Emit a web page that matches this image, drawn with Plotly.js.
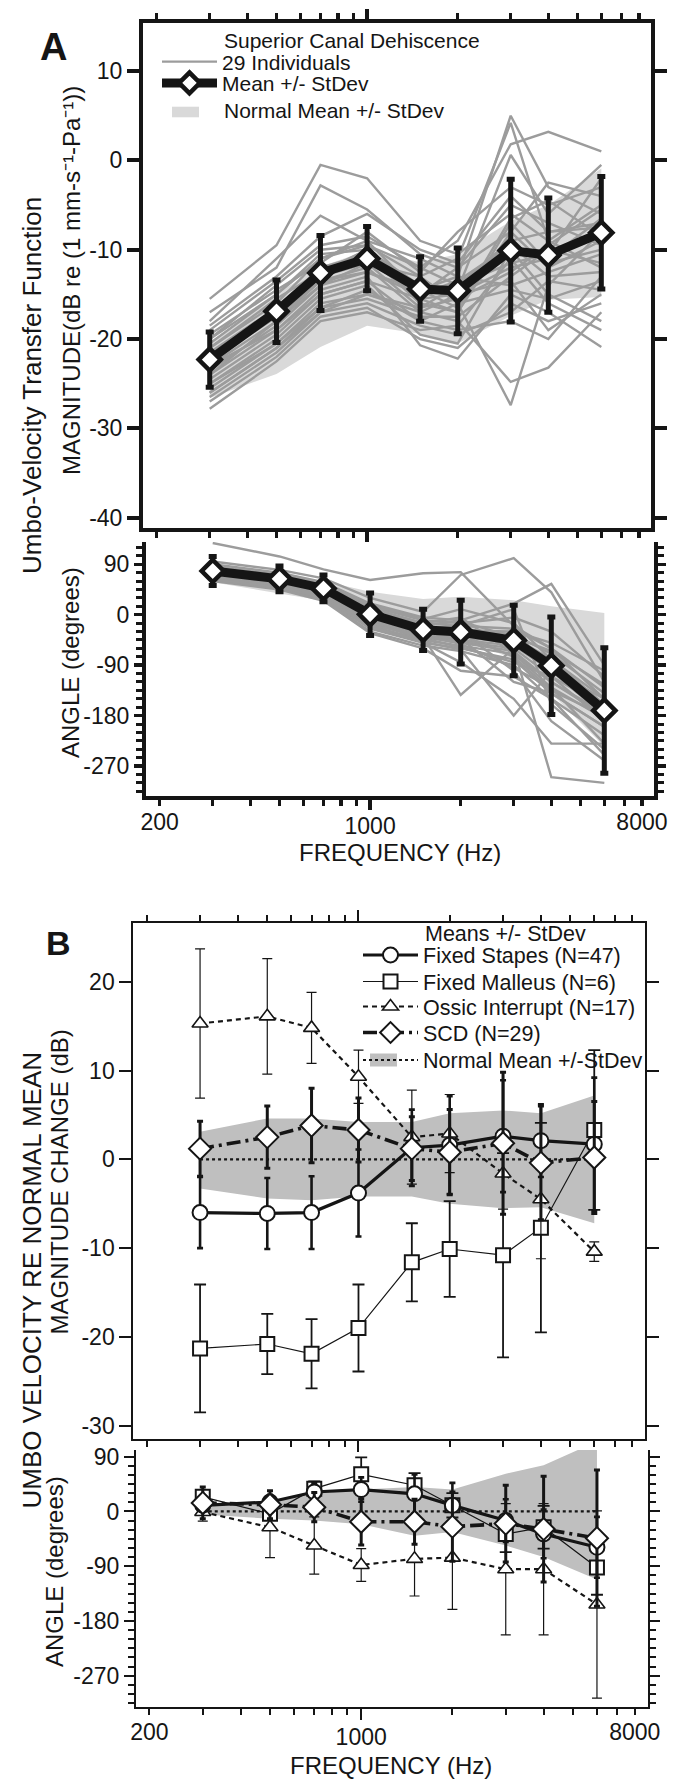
<!DOCTYPE html>
<html><head><meta charset="utf-8">
<script src="https://cdn.plot.ly/plotly-3.0.1.min.js"></script>
<style>html,body{margin:0;padding:0;background:#fff}#chart{width:681px;height:1782px}</style>
</head><body><div id="chart"></div>
<script>
// ---------------- DATA ----------------
const freqs = [300, 500, 700, 1000, 1500, 2000, 3000, 4000, 6000];

// Panel A: SCD (29 individuals) umbo-velocity transfer function
const scdMagMean = [-22.3, -16.9, -12.6, -11.0, -14.4, -14.6, -10.1, -10.6, -8.1];
const scdMagSD   = [3.1, 3.5, 4.2, 3.6, 3.6, 4.8, 8.0, 6.4, 6.3];
const scdAngMean = [78, 64, 47, 1, -27, -31, -46, -91, -171];
const scdAngSD   = [26, 23, 24, 38, 37, 57, 63, 87, 112];

const normAMagUpper = [-20.4, -14.9, -11.9, -10.1, -11.4, -10.5, -6.8, -5.0, -0.9];
const normAMagLower = [-26.6, -23.9, -20.9, -18.5, -19.4, -20.5, -17.4, -15.6, -15.3];
const normAAngUpper = [76, 68, 60, 41, 28, 32, 26, 15, 3];
const normAAngLower = [58, 38, 25, -10, -45, -40, -80, -140, -235];

const indivMag = [
  [-15.5, -9.5, -0.5, -2.0, -9.0, -10.5, -6.0, -9.0, -5.0],
  [-17.0, -12.0, -2.8, -5.5, -10.5, -12.0, -8.0, -12.0, -9.0],
  [-18.0, -11.0, -6.2, -9.0, -11.0, -13.0, 5.0, -3.0, -6.0],
  [-19.0, -13.5, -9.5, -8.5, -12.0, -9.0, 1.8, 3.2, 1.0],
  [-20.0, -14.0, -10.0, -9.5, -13.0, -11.0, 4.2, -9.0, -12.0],
  [-20.5, -15.0, -10.5, -10.0, -14.0, -14.5, 0.6, -6.0, -0.5],
  [-21.0, -16.0, -11.0, -9.0, -15.0, -12.0, -5.0, -7.0, -9.5],
  [-21.5, -16.5, -12.0, -10.5, -16.0, -17.0, -8.0, -2.5, -4.0],
  [-22.0, -17.0, -12.5, -11.0, -15.5, -15.0, -12.0, -11.0, -6.5],
  [-22.5, -17.5, -13.0, -11.5, -13.0, -16.0, -27.4, -14.0, -8.0],
  [-23.0, -18.0, -13.5, -12.0, -17.0, -18.0, -24.8, -23.2, -17.0],
  [-23.5, -18.5, -14.0, -12.5, -14.5, -13.0, -14.0, -12.5, -10.5],
  [-24.0, -19.0, -14.5, -13.0, -20.7, -22.2, -15.0, -17.0, -20.9],
  [-24.5, -19.5, -15.0, -13.5, -18.0, -19.0, -18.0, -20.0, -13.0],
  [-25.0, -20.0, -15.5, -14.0, -19.5, -20.5, -10.0, -15.0, -18.0],
  [-25.5, -20.5, -16.0, -15.0, -16.5, -14.0, -9.0, -8.0, -7.0],
  [-26.0, -21.0, -16.5, -15.5, -17.5, -17.5, -13.0, -10.0, -11.5],
  [-26.5, -21.5, -17.0, -16.0, -18.5, -19.5, -17.0, -13.5, -14.5],
  [-27.0, -22.0, -17.5, -16.5, -20.0, -21.0, -16.0, -18.0, -16.0],
  [-27.8, -22.5, -18.0, -17.0, -19.0, -18.5, -11.0, -16.0, -19.0],
  [-19.5, -14.5, -11.5, -8.0, -12.5, -8.0, -3.0, -5.0, -3.0],
  [-21.0, -15.5, -12.5, -10.0, -14.5, -16.5, -6.5, -4.5, -8.5],
  [-22.0, -17.5, -13.5, -12.5, -15.0, -13.5, -9.5, -13.0, -12.5],
  [-24.0, -18.0, -14.0, -11.5, -16.5, -15.5, -12.5, -9.5, -5.5],
  [-23.0, -19.0, -15.0, -13.5, -15.5, -17.0, -7.0, -11.5, -10.0],
  [-25.0, -20.5, -16.5, -14.5, -18.0, -16.0, -14.5, -15.5, -13.5],
  [-20.0, -15.0, -11.0, -9.5, -12.0, -14.0, -11.5, -10.5, -2.0],
  [-18.5, -13.0, -8.5, -6.0, -10.0, -11.5, -4.0, -8.0, -7.5],
  [-26.0, -21.0, -17.0, -15.0, -17.0, -15.0, -13.5, -19.0, -15.0]
];

const indivAng = [
  [128, 104, 81, 62, 74, 76, -20, -60, -150],
  [95, 80, 65, 30, 5, 71, 101, 40, -120],
  [90, 75, 58, 20, -5, -10, 20, 55, -90],
  [85, 70, 55, 15, -10, -15, -5, -30, -110],
  [82, 68, 52, 10, -15, -20, -25, -60, -130],
  [80, 66, 50, 5, -20, -25, -35, -70, -140],
  [78, 64, 48, 2, -25, -30, -40, -80, -150],
  [76, 62, 45, 0, -28, -35, -45, -90, -160],
  [74, 60, 43, -3, -30, -40, -50, -95, -170],
  [72, 58, 40, -5, -33, -45, -55, -100, -180],
  [70, 56, 38, -8, -36, -48, -60, -110, -165],
  [68, 54, 35, -12, -40, -50, -65, -120, -175],
  [66, 52, 32, -20, -45, -55, -70, -130, -185],
  [64, 50, 30, -25, -50, -60, -80, -140, -200],
  [62, 48, 28, -30, -55, -65, -90, -150, -215],
  [60, 45, 25, -33, -60, -100, -110, -150, -250],
  [75, 62, 46, -2, -50, -85, -150, -230, -230],
  [80, 65, 49, 3, -40, -143, -60, -290, -300],
  [77, 61, 44, -6, -25, -20, 10, -160, -240],
  [73, 59, 42, -10, -35, -30, -100, -190, -260],
  [84, 69, 54, 12, -15, -5, -70, -120, -180],
  [71, 57, 41, -4, -30, -42, -120, -140, -200],
  [79, 63, 47, 4, -22, -28, -30, -50, -100],
  [69, 55, 37, -15, -42, -58, -85, -110, -190],
  [86, 72, 57, 18, -8, 10, -15, -80, -160],
  [67, 53, 34, -18, -38, -52, -95, -130, -230],
  [81, 67, 51, 8, -18, -12, -40, -65, -125],
  [75, 60, 44, -1, -27, -35, -75, -135, -180],
  [63, 49, 31, -22, -48, -62, -180, -100, -150]
];

// Panel B: means +/- SD re normal mean
const stapesMag   = [-6.0, -6.1, -6.0, -3.8, 1.3, 1.6, 2.6, 2.1, 1.7];
const stapesMagSD = [4.0, 4.0, 4.1, 4.9, 4.3, 5.5, 6.3, 4.1, 7.5];
const malleusMag   = [-21.3, -20.8, -21.9, -19.0, -11.6, -10.1, -10.8, -7.7, 3.3];
const malleusMagSD = [7.2, 3.4, 3.9, 4.9, 4.4, 5.4, 11.5, 11.8, 9.0];
const ossicMag   = [15.3, 16.1, 14.8, 9.3, 2.5, 2.9, -1.6, -4.5, -10.4];
const ossicMagSD = [8.4, 6.5, 4.0, 3.0, 5.3, 4.4, 4.0, 6.7, 1.1];
const scdMagDiff = [1.2, 2.5, 3.8, 3.3, 1.2, 0.8, 1.8, -0.4, 0.2];
const normBMagUpper = [3.1, 4.6, 4.6, 4.2, 4.2, 5.2, 5.5, 5.2, 7.2];
const normBMagLower = [-3.3, -4.4, -4.6, -4.2, -4.2, -5.0, -5.5, -5.4, -7.2];
const normalMean = [0, 0, 0, 0, 0, 0, 0, 0, 0];

const stapesAng   = [10, 15.5, 32, 36, 29, 10, -15, -37, -59];
const stapesAngSD = [10, 12, 15, 20, 32, 37, 35, 40, 50];
const malleusAng   = [24, -4, 37.5, 61, 43, 10, -37, -26, -92];
const malleusAngSD = [8, 10, 12, 28, 20, 20, 30, 35, 45];
const ossicAng   = [-1, -26, -56, -88, -78, -76, -95, -95, -153];
const ossicAngSD = [15, 50, 47, 27, 61, 85, 108, 108, 154];
const scdAngDiff = [14, 11, 7, -17, -17, -25, -20, -29, -44];
const normBAngUpper = [10, 18, 29, 36, 40, 36, 62, 76, 115];
const normBAngLower = [-5, -12, -15, -21, -40, -34, -56, -75, -112];

// tick values
const xLabelTicks = [200, 8000];
const xLabelText = ['200', '8000'];
const xMinorTicks = [300, 400, 500, 600, 700, 800, 900, 2000, 3000, 4000, 5000, 6000, 7000];
const xLongTick = [1000];
const xLongText = ['1000'];
const magATicks = [10, 0, -10, -20, -30, -40];
const magBTicks = [20, 10, 0, -10, -20, -30];
const angTicks = [90, 0, -90, -180, -270];

// ---------------- LAYOUT HELPERS ----------------
const W = 681, H = 1782;
const px = v => v / W;
const py = v => 1 - v / H;
const FONT = 'Liberation Sans, Arial, Helvetica, sans-serif';
const INK = '#151515';
const minorAng = [];
for (let v = -315; v <= 120; v += 15) { if (v % 90 !== 0) minorAng.push(v); }
const rev = a => a.slice().reverse();

const traces = [];

// ---- Panel A magnitude ----
traces.push({x: freqs.concat(rev(freqs)), y: normAMagUpper.concat(rev(normAMagLower)), xaxis: 'x', yaxis: 'y',
  mode: 'lines', fill: 'toself', fillcolor: '#d9d9d9', line: {width: 0}, name: 'Normal Mean +/- StDev', showlegend: false, hoverinfo: 'skip'});
indivMag.forEach((row, i) => traces.push({x: freqs, y: row, xaxis: 'x', yaxis: 'y', mode: 'lines',
  line: {color: '#9c9c9c', width: 2.4}, name: '29 Individuals', legend: 'legend', legendgroup: 'ind', showlegend: i === 0, hoverinfo: 'skip'}));
const meanStyle = {mode: 'lines+markers', line: {color: INK, width: 9},
  marker: {symbol: 'diamond', size: 17, color: '#ffffff', line: {color: INK, width: 4.5}}};
traces.push(Object.assign({x: freqs, y: scdMagMean, xaxis: 'x', yaxis: 'y',
  error_y: {type: 'data', array: scdMagSD, visible: true, color: INK, thickness: 5, width: 4},
  name: 'Mean +/- StDev', legend: 'legend2', showlegend: true, hoverinfo: 'skip'}, meanStyle));

// ---- Panel A angle ----
traces.push({x: freqs.concat(rev(freqs)), y: normAAngUpper.concat(rev(normAAngLower)), xaxis: 'x2', yaxis: 'y2',
  mode: 'lines', fill: 'toself', fillcolor: '#d9d9d9', line: {width: 0}, showlegend: false, hoverinfo: 'skip'});
indivAng.forEach(row => traces.push({x: freqs, y: row, xaxis: 'x2', yaxis: 'y2', mode: 'lines',
  line: {color: '#9c9c9c', width: 2.4}, showlegend: false, hoverinfo: 'skip'}));
traces.push(Object.assign({x: freqs, y: scdAngMean, xaxis: 'x2', yaxis: 'y2',
  error_y: {type: 'data', array: scdAngSD, visible: true, color: INK, thickness: 5, width: 4},
  showlegend: false, hoverinfo: 'skip'}, meanStyle));

// ---- Panel B (magnitude x3/y3, angle x4/y4) ----
function bSeries(xa, ya, normU, normL, st, stSD, ma, maSD, os, osSD, sc, scSD, withLegend) {
  traces.push({x: freqs.concat(rev(freqs)), y: normU.concat(rev(normL)), xaxis: xa, yaxis: ya, mode: 'lines',
    fill: 'toself', fillcolor: '#bfbfbf', line: {width: 0}, showlegend: false, hoverinfo: 'skip'});
  traces.push({x: freqs, y: normalMean, xaxis: xa, yaxis: ya, mode: 'lines', line: {color: INK, width: 2.2, dash: 'dot'},
    name: 'Normal Mean +/-StDev', legend: 'legend9', showlegend: withLegend, hoverinfo: 'skip'});
  traces.push({x: freqs, y: ma, xaxis: xa, yaxis: ya, mode: 'lines+markers', line: {color: INK, width: 1.2},
    marker: {symbol: 'square', size: 14, color: '#fff', line: {color: INK, width: 2}},
    error_y: {type: 'data', array: maSD, visible: true, color: INK, thickness: 1.8, width: 6},
    name: 'Fixed Malleus (N=6)', legend: 'legend5', showlegend: withLegend, hoverinfo: 'skip'});
  traces.push({x: freqs, y: os, xaxis: xa, yaxis: ya, mode: 'lines+markers', line: {color: INK, width: 2.2, dash: '5px,4px'},
    marker: {symbol: 'triangle-up', size: 14, color: '#fff', line: {color: INK, width: 1.6}},
    error_y: {type: 'data', array: osSD, visible: true, color: INK, thickness: 1.2, width: 5},
    name: 'Ossic Interrupt (N=17)', legend: 'legend6', showlegend: withLegend, hoverinfo: 'skip'});
  traces.push({x: freqs, y: st, xaxis: xa, yaxis: ya, mode: 'lines+markers', line: {color: INK, width: 3.2},
    marker: {symbol: 'circle', size: 15, color: '#fff', line: {color: INK, width: 2}},
    error_y: {type: 'data', array: stSD, visible: true, color: INK, thickness: 2.6, width: 3},
    name: 'Fixed Stapes (N=47)', legend: 'legend4', showlegend: withLegend, hoverinfo: 'skip'});
  traces.push({x: freqs, y: sc, xaxis: xa, yaxis: ya, mode: 'lines+markers', line: {color: INK, width: 3.6, dash: '14px,5px,3px,5px'},
    marker: {symbol: 'diamond', size: 17, color: '#fff', line: {color: INK, width: 2}},
    error_y: {type: 'data', array: scSD, visible: true, color: INK, thickness: 3, width: 3},
    name: 'SCD (N=29)', legend: 'legend7', showlegend: withLegend, hoverinfo: 'skip'});
}
bSeries('x3', 'y3', normBMagUpper, normBMagLower, stapesMag, stapesMagSD, malleusMag, malleusMagSD, ossicMag, ossicMagSD, scdMagDiff, scdMagSD, true);
bSeries('x4', 'y4', normBAngUpper, normBAngLower, stapesAng, stapesAngSD, malleusAng, malleusAngSD, ossicAng, ossicAngSD, scdAngDiff, scdAngSD, false);

// empty helper traces that register the overlay axes carrying the long 1000-Hz tick
[['x5', 'y'], ['x6', 'y2'], ['x7', 'y3'], ['x8', 'y4']].forEach(p => traces.push({x: [1000], y: [null], xaxis: p[0], yaxis: p[1],
  mode: 'markers', showlegend: false, hoverinfo: 'skip'}));

// ---------------- AXES ----------------
const tickfont = {family: FONT, size: 23, color: INK};
function ax(o) {
  return Object.assign({showgrid: false, zeroline: false, fixedrange: true, ticks: 'outside', tickcolor: INK,
    linecolor: INK, tickfont: tickfont, tickmode: 'array'}, o);
}
function xMinor(w) { return {tickmode: 'array', tickvals: xMinorTicks, ticks: 'outside', ticklen: 6, tickwidth: w, tickcolor: INK}; }
const rangeA = [2.2555, 3.9432];
const rangeB = [2.2568, 3.9456];
const layout = {
  width: W, height: H, margin: {l: 0, r: 0, t: 0, b: 0}, paper_bgcolor: '#fff', plot_bgcolor: 'rgba(0,0,0,0)',
  hovermode: false, font: {family: FONT, color: INK},
  // Panel A magnitude
  xaxis: ax({domain: [px(143), px(651)], type: 'log', range: rangeA, anchor: 'y', showline: true, linewidth: 4, mirror: 'ticks',
    tickvals: xLabelTicks, showticklabels: false, ticklen: 6, tickwidth: 3.5, minor: xMinor(3.5)}),
  xaxis5: ax({overlaying: 'x', anchor: 'y', type: 'log', range: rangeA, showline: false, mirror: 'ticks',
    tickvals: xLongTick, showticklabels: false, ticklen: 13, tickwidth: 3.5}),
  yaxis: ax({domain: [py(528), py(22.7)], range: [-41.15, 15.41], anchor: 'x', showline: true, linewidth: 4, mirror: 'ticks',
    tickvals: magATicks, ticktext: magATicks.map(String), ticklen: 12, tickwidth: 4}),
  // Panel A angle
  xaxis2: ax({domain: [px(146), px(654)], type: 'log', range: rangeA, anchor: 'y2', showline: true, linewidth: 4,
    tickvals: xLabelTicks, ticktext: xLabelText, ticklen: 6, tickwidth: 3.5, ticklabelstandoff: -3, minor: xMinor(3.5)}),
  xaxis6: ax({overlaying: 'x2', anchor: 'y2', type: 'log', range: rangeA, showline: false,
    tickvals: xLongTick, ticktext: xLongText, ticklen: 13, tickwidth: 3.5, ticklabelstandoff: -3}),
  yaxis2: ax({domain: [py(795.5), py(542)], range: [-322.6, 129.8], anchor: 'x2', showline: true, linewidth: 4, mirror: 'ticks',
    tickvals: angTicks, ticktext: angTicks.map(String), ticklen: 8, tickwidth: 3.5,
    minor: {tickmode: 'array', tickvals: minorAng, ticks: 'outside', ticklen: 6, tickwidth: 3, tickcolor: INK}}),
  // Panel B magnitude
  xaxis3: ax({domain: [px(133.3), px(645)], type: 'log', range: rangeB, anchor: 'y3', showline: true, linewidth: 2, mirror: 'ticks',
    tickvals: xLabelTicks, showticklabels: false, ticklen: 6, tickwidth: 2, minor: xMinor(2)}),
  xaxis7: ax({overlaying: 'x3', anchor: 'y3', type: 'log', range: rangeB, showline: false, mirror: 'ticks',
    tickvals: xLongTick, showticklabels: false, ticklen: 12, tickwidth: 2}),
  yaxis3: ax({domain: [py(1439), py(923.3)], range: [-31.5, 26.58], anchor: 'x3', showline: true, linewidth: 2, mirror: 'ticks',
    tickvals: magBTicks, ticktext: magBTicks.map(String), ticklen: 12, tickwidth: 2}),
  // Panel B angle
  xaxis4: ax({domain: [px(136), px(647.7)], type: 'log', range: rangeB, anchor: 'y4', showline: true, linewidth: 2,
    tickvals: xLabelTicks, ticktext: xLabelText, ticklen: 6, tickwidth: 2, ticklabelstandoff: -3, minor: xMinor(2)}),
  xaxis8: ax({overlaying: 'x4', anchor: 'y4', type: 'log', range: rangeB, showline: false,
    tickvals: xLongTick, ticktext: xLongText, ticklen: 12, tickwidth: 2, ticklabelstandoff: -3}),
  yaxis4: ax({domain: [py(1707.3), py(1450)], range: [-322, 101], anchor: 'x4', showline: true, linewidth: 2, mirror: 'ticks',
    tickvals: angTicks, ticktext: angTicks.map(String), ticklen: 10, tickwidth: 2,
    minor: {tickmode: 'array', tickvals: minorAng, ticks: 'outside', ticklen: 6.5, tickwidth: 2, tickcolor: INK}})
};

// ---------------- LEGENDS ----------------
function leg(xpx, ypx, iw, fs) {
  return {x: px(xpx), y: py(ypx), xanchor: 'left', yanchor: 'middle', bgcolor: 'rgba(0,0,0,0)', borderwidth: 0,
    itemwidth: iw, orientation: 'v', font: {family: FONT, size: fs, color: INK}, itemclick: false, itemdoubleclick: false};
}
layout.legend = leg(157, 62, 55, 21);
layout.legend2 = leg(157, 83.3, 55, 21);
layout.legend4 = leg(358, 955, 55, 21.5);
layout.legend5 = leg(358, 981.5, 55, 21.5);
layout.legend6 = leg(358, 1006.5, 55, 21.5);
layout.legend7 = leg(358, 1032.5, 55, 21.5);
layout.legend9 = leg(358, 1060, 55, 21.5);

// legend swatches for the shaded normal ranges
layout.shapes = [
  {type: 'rect', xref: 'paper', yref: 'paper', x0: px(172), x1: px(199), y0: py(117.3), y1: py(106.7),
    fillcolor: '#d9d9d9', line: {width: 0}, layer: 'above'},
  {type: 'rect', xref: 'paper', yref: 'paper', x0: px(370), x1: px(397), y0: py(1066.5), y1: py(1053.5),
    fillcolor: '#bfbfbf', line: {width: 0}, layer: 'above'}
];

// ---------------- ANNOTATIONS (panel letters, axis titles, legend headers) ----------------
function ann(text, xpx, ypx, size, extra) {
  return Object.assign({text: text, x: px(xpx), y: py(ypx), xref: 'paper', yref: 'paper', showarrow: false,
    xanchor: 'center', yanchor: 'middle', font: {family: FONT, size: size, color: INK}}, extra || {});
}
layout.annotations = [
  ann('A', 53.5, 46.7, 38, {font: {family: FONT, size: 38, color: INK, weight: 'bold'}}),
  ann('B', 59, 943, 34, {font: {family: FONT, size: 34, color: INK, weight: 'bold'}}),
  ann('Umbo-Velocity Transfer Function', 32, 386, 26, {textangle: -90}),
  ann('MAGNITUDE(dB re (1 mm-s\u207B\u00B9-Pa\u207B\u00B9))', 71, 281, 24, {textangle: -90}),
  ann('ANGLE (degrees)', 70.5, 662.5, 24, {textangle: -90}),
  ann('FREQUENCY (Hz)', 400, 852, 24),
  ann('UMBO VELOCITY RE NORMAL MEAN', 31.5, 1280, 26, {textangle: -90}),
  ann('MAGNITUDE CHANGE (dB)', 58.5, 1182, 24, {textangle: -90}),
  ann('ANGLE (degrees)', 54, 1572, 24, {textangle: -90}),
  ann('FREQUENCY (Hz)', 391, 1765, 24),
  ann('Superior Canal Dehiscence', 222, 40, 21, {xanchor: 'left'}),
  ann('Normal Mean +/- StDev', 222, 110, 21, {xanchor: 'left'}),
  ann('Means +/- StDev', 423, 934, 21.5, {xanchor: 'left'})
];

Plotly.newPlot('chart', traces, layout, {displayModeBar: false, staticPlot: true});
</script>
</body></html>
